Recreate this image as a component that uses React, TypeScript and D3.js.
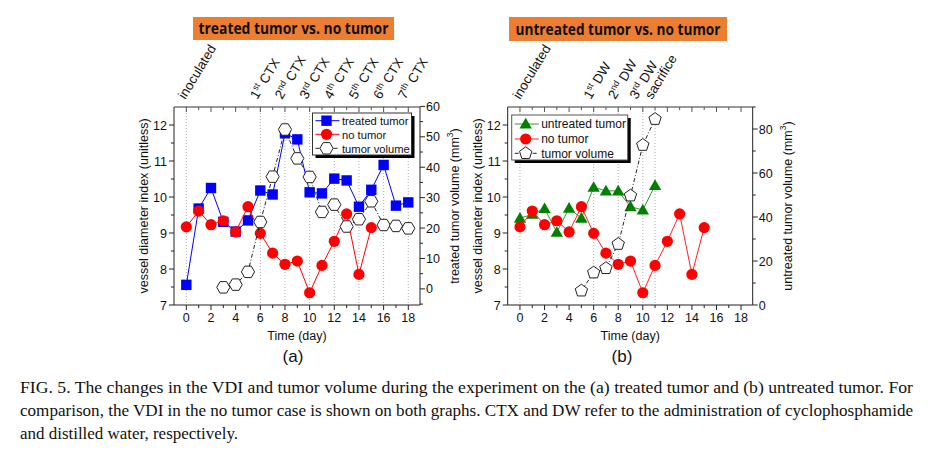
import React from "react";
import * as d3 from "d3";

const SANS = "'Liberation Sans', Arial, sans-serif";
const SERIF = "'Liberation Serif', 'Times New Roman', serif";

// ---- data ----
const treatedDays = [0, 1, 2, 3, 4, 5, 6, 7, 8, 9, 10, 11, 12, 13, 14, 15, 16, 17, 18];
const treatedVDI = [7.56, 9.68, 10.25, 9.31, 9.04, 9.35, 10.18, 10.07, 11.77, 11.6, 10.13, 10.1, 10.51, 10.46, 9.73, 10.2, 10.89, 9.76, 9.85];
const noTumorDays = [0, 1, 2, 3, 4, 5, 6, 7, 8, 9, 10, 11, 12, 13, 14, 15];
const noTumorVDI = [9.17, 9.61, 9.23, 9.34, 9.03, 9.73, 8.99, 8.44, 8.13, 8.22, 7.34, 8.1, 8.77, 9.53, 7.85, 9.15];
const treatedVolDays = [3, 4, 5, 6, 7, 8, 9, 10, 11, 12, 13, 14, 15, 16, 17, 18];
const treatedVol = [0.5, 1.4, 5.6, 22, 36.9, 52.4, 42.9, 36.8, 25.3, 27.7, 20.5, 22.9, 28.8, 21, 20.7, 19.9];
const untreatedDays = [0, 1, 2, 3, 4, 5, 6, 7, 8, 9, 10, 11];
const untreatedVDI = [9.41, 9.52, 9.68, 9.02, 9.69, 9.41, 10.27, 10.17, 10.17, 9.73, 9.64, 10.32];
const untreatedVolDays = [5, 6, 7, 8, 9, 10, 11];
const untreatedVol = [6.5, 14.7, 16.7, 27.7, 49.7, 72.7, 84.5];

const xTicks = [0, 2, 4, 6, 8, 10, 12, 14, 16, 18];
const vdiTicks = [7, 8, 9, 10, 11, 12];
const volTicksA = [0, 10, 20, 30, 40, 50, 60];
const volTicksB = [0, 20, 40, 60, 80];

const eventDaysA = [0, 6, 8, 10, 12, 14, 16, 18];
const eventLabelsA: string[][] = [
  ["inoculated", "", ""],
  ["1", "st", " CTX"],
  ["2", "nd", " CTX"],
  ["3", "rd", " CTX"],
  ["4", "th", " CTX"],
  ["5", "th", " CTX"],
  ["6", "th", " CTX"],
  ["7", "th", " CTX"],
];
const eventDaysB = [0, 6, 8, 10, 11];
const eventLabelsB: string[][] = [
  ["inoculated", "", ""],
  ["1", "st", " DW"],
  ["2", "nd", " DW"],
  ["3", "rd", " DW"],
  ["sacrifice", "", ""],
];

const captionLines = [
  "FIG. 5. The changes in the VDI and tumor volume during the experiment on the (a) treated tumor and (b) untreated tumor. For",
  "comparison, the VDI in the no tumor case is shown on both graphs. CTX and DW refer to the administration of cyclophosphamide",
  "and distilled water, respectively.",
];

type Marker = "square" | "circle" | "triangle" | "hexagon" | "pentagon";

function polygon(n: number, r: number, rot: number) {
  const pts: string[] = [];
  for (let i = 0; i < n; i++) {
    const a = rot + (i * 2 * Math.PI) / n;
    pts.push(`${(r * Math.cos(a)).toFixed(2)},${(r * Math.sin(a)).toFixed(2)}`);
  }
  return "M" + pts.join("L") + "Z";
}

function Sym({ kind, x, y, color }: { kind: Marker; x: number; y: number; color: string }) {
  if (kind === "square") return <rect x={x - 5.2} y={y - 5.2} width={10.4} height={10.4} fill={color} />;
  if (kind === "circle") return <circle cx={x} cy={y} r={5.6} fill={color} />;
  if (kind === "triangle")
    return <path transform={`translate(${x},${y + 1})`} d={d3.symbol(d3.symbolTriangle, 66)()!} fill={color} />;
  if (kind === "hexagon")
    return <path transform={`translate(${x},${y})`} d={polygon(6, 6.6, 0)} fill="white" stroke="#222" strokeWidth={1} />;
  return <path transform={`translate(${x},${y})`} d={polygon(5, 6.5, -Math.PI / 2)} fill="white" stroke="#222" strokeWidth={1} />;
}

interface Series {
  days: number[];
  vals: number[];
  axis: "left" | "right";
  kind: Marker;
  color: string;
  lineColor: string;
  dash?: string;
  label: string;
}

interface PanelProps {
  left: number;
  right: number;
  top: number;
  bottom: number;
  rightDomain: [number, number];
  rightTicks: number[];
  rightMinor: number[];
  rightTitle: string;
  series: Series[];
  gridDays: number[];
  eventDays: number[];
  eventLabels: string[][];
  eventOffsets: number[];
  title: string;
  titleBox: [number, number, number, number];
  titleTextLen: number;
  legend: { x: number; y: number; w: number; h: number; rows: number[]; fs: number; border: string };
  tag: string;
  tagX: number;
}

function Panel(p: PanelProps) {
  const x = d3.scaleLinear().domain([-1, 18.95]).range([p.left, p.right]);
  const yL = d3.scaleLinear().domain([7, 12.5]).range([p.bottom, p.top]);
  const yR = d3.scaleLinear().domain(p.rightDomain).range([p.bottom, p.top]);
  const cx = (p.left + p.right) / 2;
  const cy = (p.top + p.bottom) / 2;
  const minorX = d3.range(1, 19, 2);
  const allDays = d3.range(0, 19);
  const minorL = [7.5, 8.5, 9.5, 10.5, 11.5];
  const lg = p.legend;
  return (
    <g>
      {/* title */}
      <rect x={p.titleBox[0]} y={p.titleBox[1]} width={p.titleBox[2]} height={p.titleBox[3]} fill="#ED7D31" />
      <text
        x={p.titleBox[0] + p.titleBox[2] / 2}
        y={p.titleBox[1] + p.titleBox[3] / 2 + 5.5}
        textAnchor="middle"
        fontFamily="'Open Sans', 'Liberation Sans', sans-serif"
        fontWeight="bold"
        fontSize={15.5}
        textLength={p.titleTextLen}
        lengthAdjust="spacingAndGlyphs"
        fill="#111"
      >
        {p.title}
      </text>
      {/* event annotations */}
      {p.eventDays.map((d, i) => {
        const lab = p.eventLabels[i];
        return (
          <text
            key={"ev" + i}
            transform={`translate(${x(d) + p.eventOffsets[i]},${p.top - 7}) rotate(-59)`}
            fontFamily={SANS}
            fontSize={13.3}
            fill="#111"
          >
            {lab[0]}
            {lab[1] && (
              <tspan fontSize={8.7} dy={-5}>
                {lab[1]}
              </tspan>
            )}
            {lab[2] && <tspan dy={lab[1] ? 5 : 0}>{lab[2]}</tspan>}
          </text>
        );
      })}
      {/* grid lines */}
      {p.gridDays.map((d) => (
        <line key={"g" + d} x1={x(d)} x2={x(d)} y1={p.top} y2={p.bottom} stroke="#999" strokeWidth={0.8} strokeDasharray="1,2" />
      ))}
      {/* frame */}
      <line x1={p.left} x2={p.right} y1={p.top} y2={p.top} stroke="#777" strokeWidth={1.5} />
      <line x1={p.left} x2={p.right} y1={p.bottom} y2={p.bottom} stroke="#222" strokeWidth={1} />
      <line x1={p.left} x2={p.left} y1={p.top} y2={p.bottom} stroke="#222" strokeWidth={1} />
      <line x1={p.right} x2={p.right} y1={p.top} y2={p.bottom} stroke="#222" strokeWidth={1} />
      {/* top ticks */}
      {allDays.map((d) => (
        <line key={"tt" + d} x1={x(d)} x2={x(d)} y1={p.top} y2={p.top + (d % 2 === 0 ? 5 : 3)} stroke="#555" strokeWidth={1} />
      ))}
      {/* bottom ticks */}
      {xTicks.map((d) => (
        <g key={"bt" + d}>
          <line x1={x(d)} x2={x(d)} y1={p.bottom} y2={p.bottom + 5} stroke="#222" />
          <text x={x(d)} y={p.bottom + 17} textAnchor="middle" fontFamily={SANS} fontSize={12.5} fill="#111">
            {d}
          </text>
        </g>
      ))}
      {minorX.map((d) => (
        <line key={"bm" + d} x1={x(d)} x2={x(d)} y1={p.bottom} y2={p.bottom + 3} stroke="#222" />
      ))}
      <text x={cx} y={p.bottom + 35} textAnchor="middle" fontFamily={SANS} fontSize={12.5} fill="#111">
        Time (day)
      </text>
      <text x={p.tagX} y={p.bottom + 57} textAnchor="middle" fontFamily={SANS} fontSize={17} fill="#111">
        {p.tag}
      </text>
      {/* left axis */}
      {vdiTicks.map((v) => (
        <g key={"lt" + v}>
          <line x1={p.left - 5} x2={p.left} y1={yL(v)} y2={yL(v)} stroke="#222" />
          <text x={p.left - 7} y={yL(v) + 4.5} textAnchor="end" fontFamily={SANS} fontSize={12.5} fill="#111">
            {v}
          </text>
        </g>
      ))}
      {minorL.map((v) => (
        <line key={"lm" + v} x1={p.left - 3} x2={p.left} y1={yL(v)} y2={yL(v)} stroke="#222" />
      ))}
      <text
        transform={`translate(${p.left - 30},${cy}) rotate(-90)`}
        textAnchor="middle"
        dominantBaseline="central"
        fontFamily={SANS}
        fontSize={12.5}
        fill="#111"
      >
        vessel diameter index (unitless)
      </text>
      {/* right axis */}
      {p.rightTicks.map((v) => (
        <g key={"rt" + v}>
          <line x1={p.right} x2={p.right + 5} y1={yR(v)} y2={yR(v)} stroke="#222" />
          <text x={p.right + 6} y={yR(v) + 4.5} textAnchor="start" fontFamily={SANS} fontSize={12.5} fill="#111">
            {v}
          </text>
        </g>
      ))}
      {p.rightMinor.map((v) => (
        <line key={"rm" + v} x1={p.right} x2={p.right + 3} y1={yR(v)} y2={yR(v)} stroke="#222" />
      ))}
      <text
        transform={`translate(${p.right + 35},${cy}) rotate(-90)`}
        textAnchor="middle"
        dominantBaseline="central"
        fontFamily={SANS}
        fontSize={12.5}
        fill="#111"
      >
        {p.rightTitle} (mm
        <tspan fontSize={8.5} dy={-5}>
          3
        </tspan>
        <tspan dy={5}>)</tspan>
      </text>
      {/* series */}
      {p.series.map((s, si) => {
        const ys = s.axis === "left" ? yL : yR;
        const line = d3
          .line<number>()
          .x((_, i) => x(s.days[i]))
          .y((v) => ys(v));
        return (
          <g key={"s" + si}>
            <path d={line(s.vals)!} fill="none" stroke={s.lineColor} strokeWidth={1} strokeDasharray={s.dash} />
            {s.vals.map((v, i) => (
              <Sym key={i} kind={s.kind} x={x(s.days[i])} y={ys(v)} color={s.color} />
            ))}
          </g>
        );
      })}
      {/* legend */}
      <rect x={lg.x + 3} y={lg.y + 3} width={lg.w} height={lg.h} fill="#000" />
      <rect x={lg.x} y={lg.y} width={lg.w} height={lg.h} fill="white" stroke={lg.border} strokeWidth={1} />
      {p.series.map((s, i) => (
        <g key={"lg" + i}>
          <line x1={lg.x + 3} x2={lg.x + 27} y1={lg.rows[i]} y2={lg.rows[i]} stroke={s.lineColor} strokeDasharray={s.dash} />
          <Sym kind={s.kind} x={lg.x + 14} y={lg.rows[i]} color={s.color} />
          <text x={lg.x + 29.5} y={lg.rows[i] + 4.2} fontFamily={SANS} fontSize={lg.fs} fill="#111">
            {s.label}
          </text>
        </g>
      ))}
    </g>
  );
}

export default function App() {
  const W = 938;
  const H = 457;
  return (
    <svg width={W} height={H} style={{ position: "absolute", left: 0, top: 0, background: "white" }}>
      <rect width={W} height={H} fill="white" />
      <Panel
        left={174}
        right={420}
        top={107}
        bottom={305}
        rightDomain={[-5.3, 59.8]}
        rightTicks={volTicksA}
        rightMinor={[-5, 5, 15, 25, 35, 45, 55]}
        rightTitle="treated tumor volume"
        series={[
          { days: treatedDays, vals: treatedVDI, axis: "left", kind: "square", color: "#0000FF", lineColor: "#0000FF", label: "treated tumor" },
          { days: noTumorDays, vals: noTumorVDI, axis: "left", kind: "circle", color: "#FF0000", lineColor: "#FF0000", label: "no tumor" },
          { days: treatedVolDays, vals: treatedVol, axis: "right", kind: "hexagon", color: "#222", lineColor: "#222", dash: "4,2,1,2", label: "tumor volume" },
        ]}
        gridDays={eventDaysA}
        eventDays={eventDaysA}
        eventLabels={eventLabelsA}
        eventOffsets={[-1, -3, -3, -3, -3, -3, -3, -3]}
        title="treated tumor vs. no tumor"
        titleBox={[193, 17, 201, 23]}
        titleTextLen={190}
        legend={{ x: 312.5, y: 113, w: 99, h: 42, rows: [120.7, 134.3, 148.3], fs: 11.2, border: "#333" }}
        tag="(a)"
        tagX={293}
      />
      <Panel
        left={507.7}
        right={752.7}
        top={107}
        bottom={305}
        rightDomain={[0, 90]}
        rightTicks={volTicksB}
        rightMinor={[10, 30, 50, 70, 90]}
        rightTitle="untreated tumor volume"
        series={[
          { days: untreatedDays, vals: untreatedVDI, axis: "left", kind: "triangle", color: "#008000", lineColor: "#2E9B2E", label: "untreated tumor" },
          { days: noTumorDays, vals: noTumorVDI, axis: "left", kind: "circle", color: "#FF0000", lineColor: "#FF2020", label: "no tumor" },
          { days: untreatedVolDays, vals: untreatedVol, axis: "right", kind: "pentagon", color: "#222", lineColor: "#222", dash: "4,2,1,2", label: "tumor volume" },
        ]}
        gridDays={eventDaysB}
        eventDays={eventDaysB}
        eventLabels={eventLabelsB}
        eventOffsets={[0, -3, -3, -6, -3]}
        title="untreated tumor vs. no tumor"
        titleBox={[509, 17, 218, 24]}
        titleTextLen={205}
        legend={{ x: 511.7, y: 115, w: 116, h: 45, rows: [124, 139, 153.3], fs: 12, border: "#555" }}
        tag="(b)"
        tagX={622}
      />
      {captionLines.map((t, i) => (
        <text
          key={"cap" + i}
          x={20}
          y={393 + i * 23}
          fontFamily={SERIF}
          fontSize={16}
          fill="#111"
          textLength={i < 2 ? 893 : 218}
          lengthAdjust="spacingAndGlyphs"
        >
          {t}
        </text>
      ))}
    </svg>
  );
}
